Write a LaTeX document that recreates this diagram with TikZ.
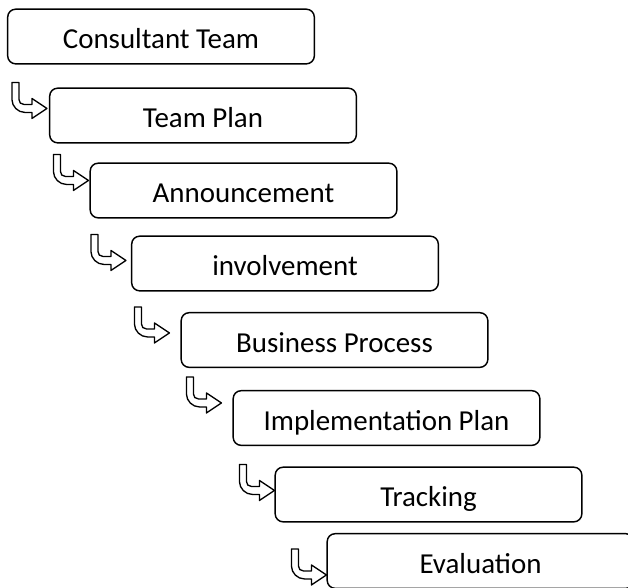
\documentclass[tikz,border=0pt]{standalone}
\usepackage{fontspec}
\setmainfont{Carlito}
\usepackage{tikz}

\tikzset{
	stagebox/.style={draw, line width=1.1pt, rounded corners=6pt, minimum width=230pt, minimum height=41pt, inner sep=0pt, text height=18pt, text depth=0pt, font=\fontsize{21.7pt}{26pt}\selectfont},
	arrowline/.style={draw, line width=1pt, line join=round},
	bentarrow/.pic={
		\draw[arrowline] (0,0)--(0,17) .. controls (0,24) and (6,30) .. (13,30)--(20,30)--(20,36)--(35,26)--(20,16)--(20,22)--(12,22) .. controls (9,22) and (7,20) .. (7,17)--(7,0)--cycle;
	}
}

\begin{document}
\begin{tikzpicture}[x=0.75pt, y=-0.75pt]
	%page
	\clip (0,0) rectangle (628,587);
	
	%steps
	\node[stagebox] (c1) at (161,36.5) {Consultant Team};
	\node[stagebox] (c2) at (203,115.5) {Team Plan};
	\node[stagebox] (c3) at (243.5,190.5) {Announcement};
	\node[stagebox] (c4) at (285,263.5) {involvement};
	\node[stagebox] (c5) at (334.5,340) {Business Process};
	\node[stagebox] (c6) at (386.5,418) {Implementation Plan};
	\node[stagebox] (c7) at (428.5,494.5) {Tracking};
	\node[stagebox] (c8) at (480.5,561) {Evaluation};
	
	%bent arrows
	\pic (a2) at ([shift={(-37,-5)}]c2.north west) {bentarrow};
	\pic (a3) at ([shift={(-36,-8)}]c3.north west) {bentarrow};
	\pic (a4) at ([shift={(-40,-1)}]c4.north west) {bentarrow};
	\pic (a5) at ([shift={(-46,-5)}]c5.north west) {bentarrow};
	\pic (a6) at ([shift={(-46,-13)}]c6.north west) {bentarrow};
	\pic (a7) at ([shift={(-35,-2)}]c7.north west) {bentarrow};
	\pic (a8) at ([shift={(-35,16)}]c8.north west) {bentarrow};
\end{tikzpicture}
\end{document}
